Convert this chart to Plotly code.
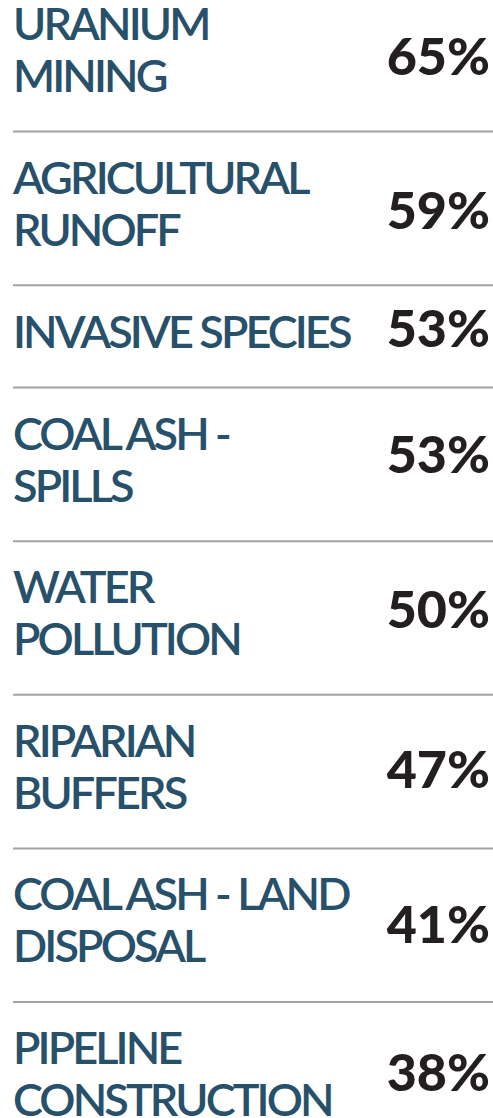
import plotly.graph_objects as go

# ---- data ----
categories = [
    "URANIUM<br>MINING",
    "AGRICULTURAL<br>RUNOFF",
    "INVASIVE SPECIES",
    "COAL ASH -<br>SPILLS",
    "WATER<br>POLLUTION",
    "RIPARIAN<br>BUFFERS",
    "COAL ASH - LAND<br>DISPOSAL",
    "PIPELINE<br>CONSTRUCTION",
]
values = [65, 59, 53, 53, 50, 47, 41, 38]

# ---- layout constants ----
W, H = 493, 1118
UNIT = 51.2          # row height per text line (plus one unit of padding)
LINE_GAP = 52        # distance between label lines
TOP = -22            # first row starts above the visible area
LABEL_X = 13
PCT_X = 490
SEP_X0 = 13
PCT_NUDGE = [7, 8, -2, -4, -3, 3, 5, -1]
LABEL_COLOR = "#27506a"
PCT_COLOR = "#231f20"

# compute row geometry
row_tops, row_centers = [], []
y = TOP
for cat in categories:
    n = len(cat.split("<br>"))
    h = UNIT * (n + 1)
    row_tops.append(y)
    row_centers.append(y + h / 2)
    y += h

lx, ly, lt = [], [], []
for cat, c in zip(categories, row_centers):
    lines = cat.split("<br>")
    n = len(lines)
    for i, ln in enumerate(lines):
        lx.append(LABEL_X)
        ly.append(c + (i - (n - 1) / 2) * LINE_GAP)
        lt.append(ln)

fig = go.Figure()
fig.add_trace(go.Scatter(
    x=lx, y=ly, text=lt, mode="text", textposition="middle right",
    textfont=dict(family="Lato", size=45, color=LABEL_COLOR, weight=600),
    hoverinfo="skip", showlegend=False, cliponaxis=True,
))
fig.add_trace(go.Scatter(
    x=[PCT_X] * len(values),
    y=[c + d for c, d in zip(row_centers, PCT_NUDGE)],
    text=[f"{v}%" for v in values], mode="text", textposition="middle left",
    textfont=dict(family="Lato", size=52, color=PCT_COLOR, weight=900),
    hoverinfo="skip", showlegend=False,
))

for t in row_tops[1:]:
    fig.add_shape(type="line", x0=SEP_X0, x1=W, y0=t, y1=t,
                  line=dict(color="#a3a3a3", width=2), layer="below")

fig.update_layout(
    width=W, height=H,
    margin=dict(l=0, r=0, t=0, b=0),
    paper_bgcolor="white", plot_bgcolor="white",
    xaxis=dict(range=[0, W], visible=False, fixedrange=True),
    yaxis=dict(range=[H, 0], visible=False, fixedrange=True),
)

post = """
document.body.style.margin = '0';
document.body.style.overflow = 'hidden';
var st = document.createElement('style');
st.textContent = '.scatterlayer .trace:first-child .textpoint text{letter-spacing:-2.9px;}';
document.head.appendChild(st);
"""
fig.write_html("out.html", config={"displayModeBar": False}, post_script=post)
